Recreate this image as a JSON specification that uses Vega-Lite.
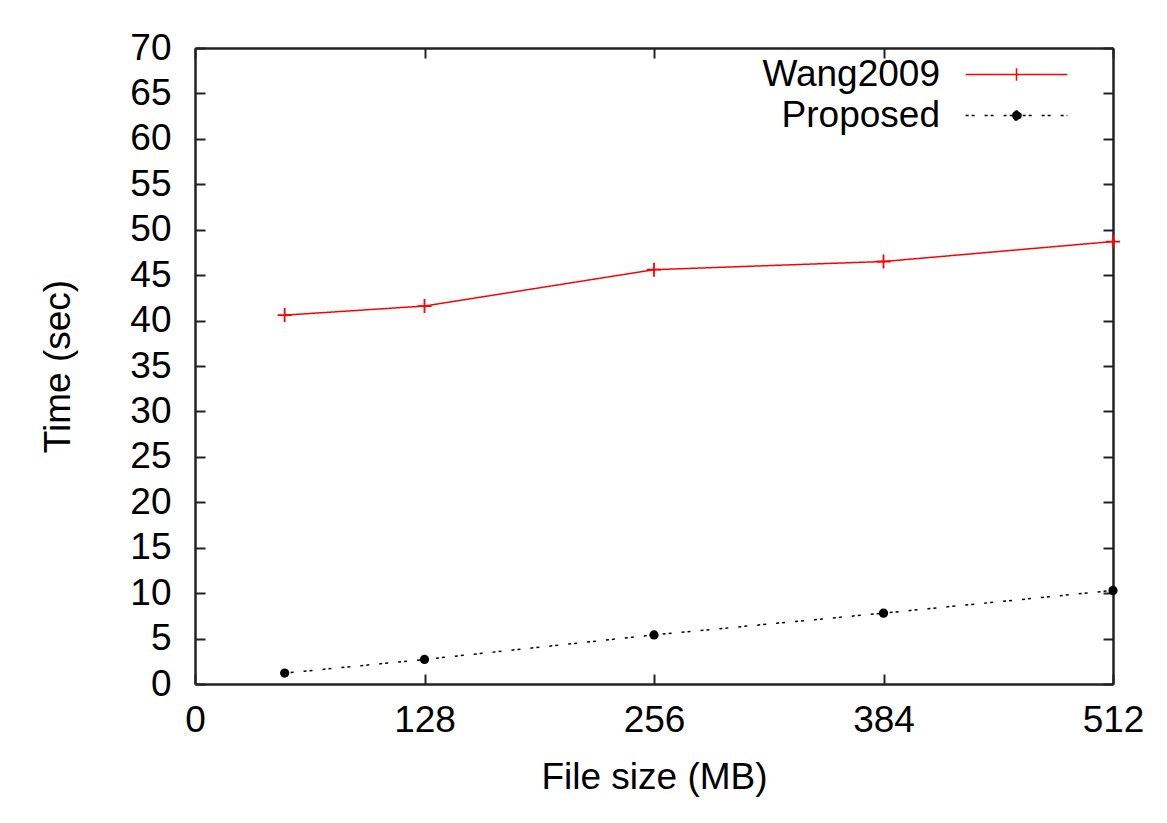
{
  "$schema": "https://vega.github.io/schema/vega-lite/v6.json",
  "width": 918,
  "height": 636,
  "autosize": {"type": "none"},
  "padding": {"left": 195, "top": 48, "right": 54, "bottom": 139},
  "background": "white",
  "config": {
    "font": "Liberation Sans",
    "view": {"stroke": null},
    "axis": {
      "labelFont": "Liberation Sans",
      "labelFontSize": 37,
      "labelColor": "#000",
      "titleFont": "Liberation Sans",
      "titleFontSize": 37,
      "titleFontWeight": "normal",
      "titleColor": "#000",
      "grid": false,
      "domainColor": "#222",
      "domainWidth": 2.5,
      "tickColor": "#222",
      "tickWidth": 2,
      "tickSize": -10
    },
    "legend": {
      "labelFont": "Liberation Sans",
      "labelFontSize": 37,
      "labelColor": "#000",
      "labelLimit": 400
    }
  },
  "data": {
    "values": [
      {"size": 50, "time": 40.6, "series": "Wang2009"},
      {"size": 128, "time": 41.6, "series": "Wang2009"},
      {"size": 256, "time": 45.6, "series": "Wang2009"},
      {"size": 384, "time": 46.5, "series": "Wang2009"},
      {"size": 512, "time": 48.7, "series": "Wang2009"},
      {"size": 50, "time": 1.2, "series": "Proposed"},
      {"size": 128, "time": 2.7, "series": "Proposed"},
      {"size": 256, "time": 5.4, "series": "Proposed"},
      {"size": 384, "time": 7.8, "series": "Proposed"},
      {"size": 512, "time": 10.3, "series": "Proposed"}
    ]
  },
  "resolve": {"axis": {"x": "independent", "y": "independent"}},
  "layer": [
    {
      "mark": {"type": "line", "strokeWidth": 1.5},
      "encoding": {
        "x": {
          "field": "size", "type": "quantitative",
          "scale": {"domain": [0, 512], "nice": false, "zero": true},
          "axis": {"orient": "bottom", "values": [0, 128, 256, 384, 512], "title": "File size (MB)", "labelPadding": 28, "titlePadding": 21, "labelFlush": false}
        },
        "y": {
          "field": "time", "type": "quantitative",
          "scale": {"domain": [0, 70], "nice": false},
          "axis": {"orient": "left", "values": [0,5,10,15,20,25,30,35,40,45,50,55,60,65,70], "title": "Time (sec)", "labelPadding": 34, "titlePadding": 52, "labelFlush": false}
        },
        "color": {
          "field": "series", "type": "nominal",
          "scale": {"domain": ["Wang2009", "Proposed"], "range": ["#ff0000", "#000000"]},
          "legend": {
            "title": null,
            "orient": "none",
            "legendX": 803,
            "legendY": 8,
            "padding": 0,
            "rowPadding": 3,
            "symbolSize": 81,
            "symbolStrokeWidth": 1.5,
            "labelAlign": "right",
            "labelOffset": -95,
            "encode": {
              "symbols": {
                "update": {
                  "shape": {"signal": "datum.value === 'Wang2009' ? 'M-11.3,0H11.3M0,-1.4V1.4' : 'M-11.3,0H11.3M1,0A1,1 0 1,1 -1,0A1,1 0 1,1 1,0Z'"},
                  "fill": {"value": "#000"}
                }
              }
            }
          }
        },
        "strokeDash": {
          "field": "series", "type": "nominal",
          "scale": {"domain": ["Wang2009", "Proposed"], "range": [[1, 0], [3, 3, 3, 10]]},
          "legend": {
            "title": null,
            "orient": "none",
            "legendX": 803,
            "legendY": 8,
            "padding": 0,
            "rowPadding": 3,
            "symbolSize": 81,
            "symbolStrokeWidth": 1.5,
            "labelAlign": "right",
            "labelOffset": -95
          }
        }
      }
    },
    {
      "transform": [{"filter": "datum.series === 'Wang2009'"}],
      "mark": {"type": "point", "shape": "M-1,0H1M0,-1V1", "size": 196, "filled": false, "stroke": "#ff0000", "strokeWidth": 1.8, "opacity": 1},
      "encoding": {
        "x": {"field": "size", "type": "quantitative", "axis": {"orient": "top", "values": [0, 128, 256, 384, 512], "labels": false, "title": null}},
        "y": {"field": "time", "type": "quantitative", "axis": {"orient": "right", "values": [0,5,10,15,20,25,30,35,40,45,50,55,60,65,70], "labels": false, "title": null}}
      }
    },
    {
      "transform": [{"filter": "datum.series === 'Proposed'"}],
      "mark": {"type": "circle", "size": 85, "color": "#000", "opacity": 1},
      "encoding": {
        "x": {"field": "size", "type": "quantitative", "axis": null},
        "y": {"field": "time", "type": "quantitative", "axis": null}
      }
    }
  ]
}
